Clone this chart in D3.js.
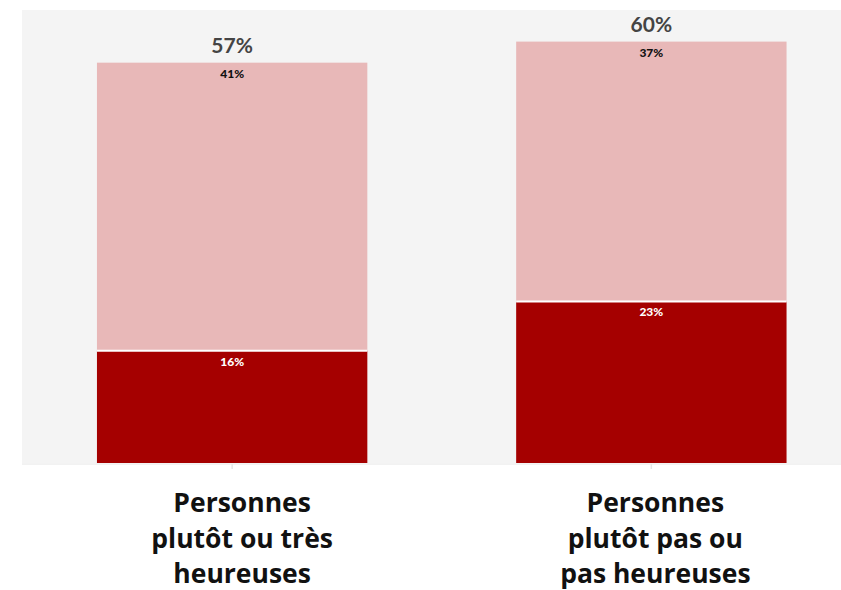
<!DOCTYPE html>
<html>
<head>
<meta charset="utf-8">
<title>Personnes heureuses</title>
<script src="https://d3js.org/d3.v7.min.js"></script>
<style>
  body { margin: 0; background: #ffffff; }
  svg { display: block; }
</style>
</head>
<body>
<div id="chart"></div>
<script>
// data
var categories = ["heureuses", "pasHeureuses"];
var categoryLines = [
  ["Personnes", "plutôt ou très", "heureuses"],
  ["Personnes", "plutôt pas ou", "pas heureuses"]
];
var darkValues = [16, 23];   // lower segment
var paleValues = [41, 37];   // upper segment
var totals = [57, 60];

var W = 841, H = 590;
var plot = {left: 22, right: 841, top: 10, bottom: 463};
var labelShift = [10, 4];  // category labels sit a bit right of bar centre

var darkColor = "#a50000";
var paleColor = "#e8b8b8";

var svg = d3.select("#chart").append("svg")
  .attr("width", W)
  .attr("height", H);

// grey plot background
svg.append("rect")
  .attr("x", plot.left)
  .attr("y", plot.top)
  .attr("width", plot.right - plot.left)
  .attr("height", plot.bottom - plot.top)
  .attr("fill", "#f4f4f4");

var x = d3.scaleBand()
  .domain(categories)
  .range([21.5, 862])
  .paddingInner(0.355)
  .paddingOuter(0.18);

var y = d3.scaleLinear()
  .domain([0, 64.5])
  .range([plot.bottom, plot.top]);

// stack the two series
var rows = categories.map(function(c, i) {
  return {cat: c, dark: darkValues[i], pale: paleValues[i], total: totals[i]};
});
var stacked = d3.stack().keys(["dark", "pale"])(rows);
var colors = {dark: darkColor, pale: paleColor};

// axis line + ticks
var axis = svg.append("g")
  .attr("transform", "translate(0," + (plot.bottom + 1) + ")")
  .call(d3.axisBottom(x).tickSize(5).tickFormat(""));
axis.select(".domain").attr("stroke", "#e6e6e6").attr("d", "M" + plot.left + ",0H" + plot.right);
axis.selectAll(".tick line").attr("stroke", "#e6e6e6").attr("stroke-width", 1.5);

var layers = svg.selectAll("g.layer")
  .data(stacked)
  .enter().append("g")
  .attr("class", "layer")
  .attr("fill", function(d) { return colors[d.key]; });

layers.selectAll("rect")
  .data(function(d) { return d; })
  .enter().append("rect")
  .attr("x", function(d) { return x(d.data.cat); })
  .attr("width", x.bandwidth())
  .attr("y", function(d) { return y(d[1]); })
  .attr("height", function(d) { return y(d[0]) - y(d[1]); });

// white separator between segments
svg.selectAll("line.sep")
  .data(rows)
  .enter().append("line")
  .attr("x1", function(d) { return x(d.cat); })
  .attr("x2", function(d) { return x(d.cat) + x.bandwidth(); })
  .attr("y1", function(d) { return y(d.dark); })
  .attr("y2", function(d) { return y(d.dark); })
  .attr("stroke", "#ffffff")
  .attr("stroke-width", 2);

// segment labels
layers.each(function(layer) {
  d3.select(this).selectAll("text")
    .data(layer)
    .enter().append("text")
    .attr("x", function(d) { return x(d.data.cat) + x.bandwidth() / 2; })
    .attr("y", function(d) { return y(d[1]) + 15; })
    .attr("text-anchor", "middle")
    .attr("font-family", "Lato, 'Open Sans', sans-serif")
    .attr("font-weight", "900")
    .attr("font-size", "12px")
    .attr("fill", layer.key == "dark" ? "#ffffff" : "#111111")
    .text(function(d) { return (d[1] - d[0]) + "%"; });
});

// totals above bars
svg.selectAll("text.total")
  .data(rows)
  .enter().append("text")
  .attr("class", "total")
  .attr("x", function(d) { return x(d.cat) + x.bandwidth() / 2; })
  .attr("y", function(d) { return y(d.total) - 10; })
  .attr("text-anchor", "middle")
  .attr("font-family", "Lato, 'Open Sans', sans-serif")
  .attr("font-weight", "bold")
  .attr("font-size", "21px")
  .attr("fill", "#444444")
  .text(function(d) { return d.total + "%"; });

// category labels
categories.forEach(function(c, i) {
  var cx = x(c) + x.bandwidth() / 2 + labelShift[i];
  var t = svg.append("text")
    .attr("x", cx)
    .attr("y", 512)
    .attr("text-anchor", "middle")
    .attr("font-family", "'Open Sans', sans-serif")
    .attr("font-weight", "bold")
    .attr("font-size", "26.5px")
    .attr("fill", "#111111");
  categoryLines[i].forEach(function(line, j) {
    t.append("tspan")
      .attr("x", cx)
      .attr("dy", j == 0 ? 0 : 35.5)
      .text(line);
  });
});
</script>
</body>
</html>
